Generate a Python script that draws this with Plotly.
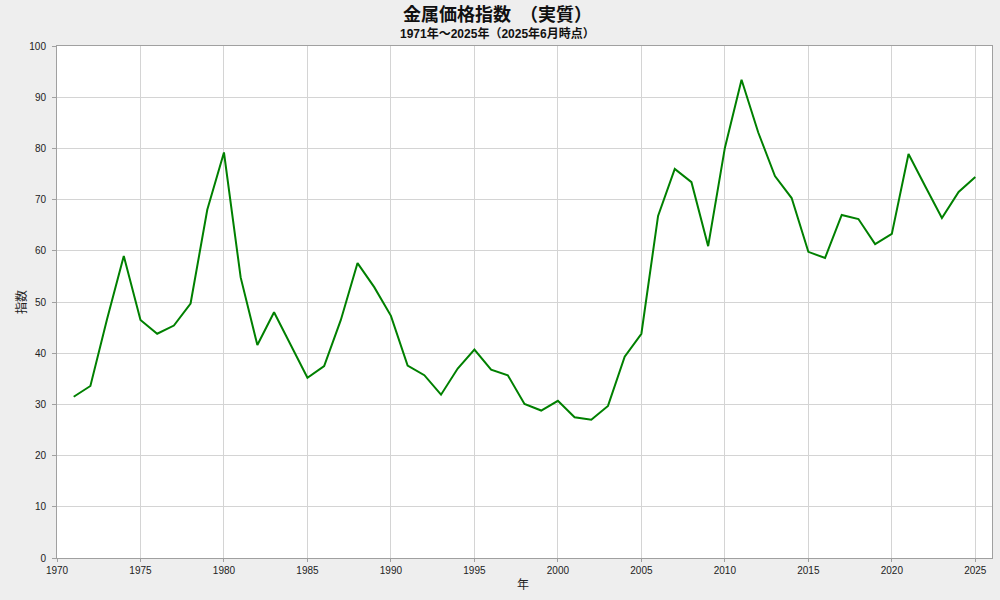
import plotly.graph_objects as go

years = list(range(1971, 2026))
index_values = [
    31.5, 33.6, 46.7, 59.0, 46.5, 43.8, 45.4, 49.7, 68.0, 79.2,
    54.8, 41.6, 48.0, 41.5, 35.2, 37.5, 46.5, 57.6, 52.9, 47.3,
    37.6, 35.7, 31.9, 37.0, 40.7, 36.8, 35.7, 30.1, 28.8, 30.7,
    27.5, 27.0, 29.7, 39.3, 43.8, 66.8, 76.0, 73.4, 60.9, 80.1,
    93.4, 83.1, 74.6, 70.3, 59.8, 58.6, 67.0, 66.2, 61.3, 63.3,
    78.9, 72.6, 66.4, 71.5, 74.4,
]
x_ticks = list(range(1970, 2030, 5))
y_ticks = list(range(0, 110, 10))

title_text = "金属価格指数　（実質）"
subtitle_text = "1971年～2025年（2025年6月時点）"
x_title = "年"
y_title = "指数"

font_family = "Liberation Sans, Noto Sans CJK JP, DejaVu Sans, sans-serif"

W, H = 1000, 600
ML, MR, MT, MB = 57, 8, 46, 42
plot_w = W - ML - MR
plot_h = H - MT - MB


def ypix(p):
    return (H - MB - p) / plot_h


def xpix(p):
    return (p - ML) / plot_w


fig = go.Figure()
fig.add_trace(go.Scatter(
    x=years, y=index_values, mode="lines",
    line=dict(color="#008000", width=2),
    hoverinfo="x+y", showlegend=False,
))

fig.update_layout(
    width=W, height=H,
    paper_bgcolor="#eeeeee", plot_bgcolor="#ffffff",
    margin=dict(l=ML, r=MR, t=MT, b=MB, autoexpand=False),
    font=dict(family=font_family, size=10, color="#222222"),
)
fig.add_annotation(text="<b>" + title_text + "</b>", x=xpix(497), y=ypix(14),
                   xref="paper", yref="paper", showarrow=False,
                   font=dict(size=18, color="#111111"), yanchor="middle")
fig.add_annotation(text="<b>" + subtitle_text + "</b>", x=xpix(497), y=ypix(33),
                   xref="paper", yref="paper", showarrow=False,
                   font=dict(size=12, color="#111111"), yanchor="middle")
fig.add_annotation(text=x_title, x=xpix(523), y=ypix(585),
                   xref="paper", yref="paper", showarrow=False,
                   font=dict(size=12, color="#222222"), yanchor="middle")
fig.add_annotation(text=y_title, x=xpix(21), y=ypix(302), textangle=-90,
                   xref="paper", yref="paper", showarrow=False,
                   font=dict(size=12, color="#222222"), yanchor="middle",
                   xanchor="center")

fig.update_xaxes(
    range=[1970, 2026], tickvals=x_ticks, ticktext=[str(v) for v in x_ticks],
    showgrid=True, gridcolor="#d4d4d4", gridwidth=1,
    showline=True, linecolor="#a0a0a0", linewidth=1, mirror=True,
    ticks="outside", ticklen=3, tickcolor="#a0a0a0",
    zeroline=False, tickfont=dict(size=10, color="#222222"),
    automargin=False,
)
fig.update_yaxes(
    range=[0, 100], tickvals=y_ticks,
    showgrid=True, gridcolor="#d4d4d4", gridwidth=1,
    showline=True, linecolor="#a0a0a0", linewidth=1, mirror=True,
    ticks="outside", ticklen=4, tickcolor="#a0a0a0",
    zeroline=False, tickfont=dict(size=10, color="#222222"),
    ticklabelstandoff=4,
    automargin=False,
)

fig.write_html(
    "out.html",
    config={"displayModeBar": False},
    post_script="document.body.style.margin='0';document.body.style.background='#eeeeee';",
)
